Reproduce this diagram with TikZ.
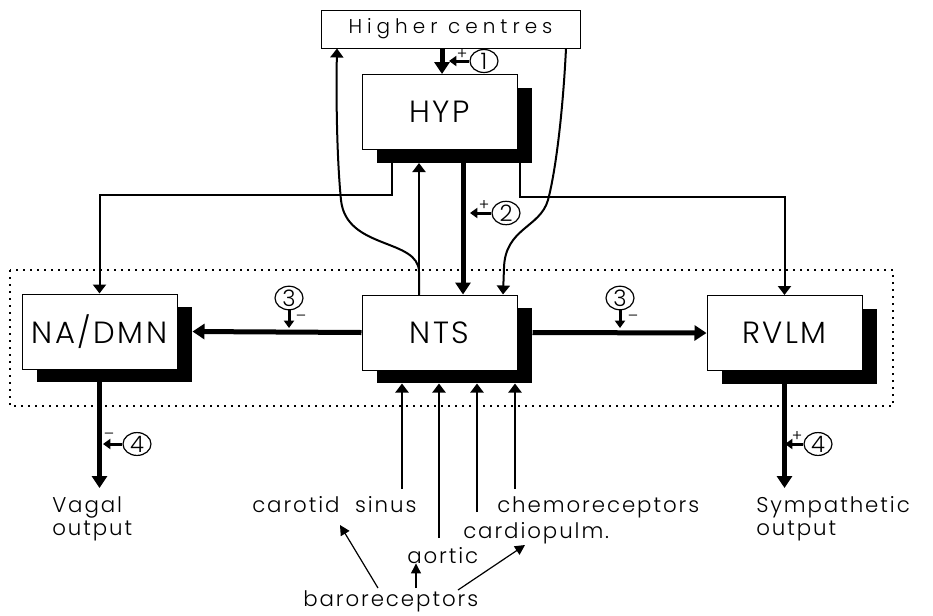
\documentclass[tikz,border=0pt]{standalone}
\usepackage{fontspec}
\setmainfont{Poppins}
\newfontfamily\lblfont{Poppins}[UprightFont=* Light, LetterSpace=9]
\newfontfamily\hcfont{Poppins}[UprightFont=* Light, LetterSpace=25]
\newfontfamily\boxfont{Poppins}[UprightFont=* Light, LetterSpace=8]
\newfontfamily\numfont{Poppins}[UprightFont=* Light]
\usetikzlibrary{arrows.meta,shadows,calc,shapes.geometric}
\begin{document}
\begin{tikzpicture}[x=0.75pt,y=-0.75pt,
  box/.style={draw, line width=0.75pt, fill=white, minimum width=116.25pt,
    minimum height=56.25pt, inner sep=0pt, font=\boxfont\fontsize{23}{23}\selectfont},
  sbox/.style={box, drop shadow={shadow xshift=11.25pt, shadow yshift=-9.75pt, opacity=1, fill=black}},
  conn/.style={line width=1.5pt, -{Triangle[length=6.75pt,width=9.75pt]}},
  thk/.style={line width=3.75pt, -{Triangle[length=9pt,width=11.25pt]}},
  mk/.style={line width=2.25pt, -{Triangle[length=5.5pt,width=7.5pt]}},
  ptr/.style={line width=0.9pt, -{Triangle[length=7.5pt,width=7.5pt]}},
  num/.style={ellipse, draw, line width=0.9pt, fill=white, minimum width=21pt, minimum height=15pt, inner sep=0pt, font=\numfont\fontsize{17}{17}\selectfont},
  sgn/.style={inner sep=0pt, font=\numfont\fontsize{12}{12}\selectfont},
  lbl/.style={inner sep=0pt, font=\lblfont\fontsize{16}{17}\selectfont}]
\useasboundingbox (0,0) rectangle (933,615);
% dotted frame
\draw[line width=0.9pt, dash pattern=on 1.5pt off 3.75pt] (10,270) rectangle (893,406);
% boxes
\node[draw, line width=0.75pt, fill=white, minimum width=194.25pt, minimum height=28.5pt, inner sep=0pt, font=\hcfont\fontsize{15}{15}\selectfont] (HC) at (450.5,29) {Higher centres};
\node[sbox] (HYP) at (439.5,112) {HYP};
\node[sbox] (NTS) at (439.5,332.5) {NTS};
\node[sbox] (NA) at (99.5,331.5) {NA/DMN};
\node[sbox] (RV) at (784.5,333) {RVLM};
% helper coordinates
\coordinate (HYPsb) at ($(HYP.south)+(0,13)$);
\coordinate (NTSsb) at ($(NTS.south)+(0,13)$);
\coordinate (NTSse) at ($(NTS.east)+(15,0)$);
\coordinate (NAse) at ($(NA.east)+(15,0)$);
\coordinate (c337) at (337,0);
\coordinate (c419) at (419,0);
\coordinate (c442) at (442,0);
\coordinate (c463) at (463,0);
\coordinate (c503) at (503,0);
\coordinate (c566) at (566,0);
\coordinate (hl) at (392,195);
\coordinate (hr) at (520,197);
% thin connectors
\draw[conn] (hl |- HYP.south) -- (hl) -- (hl -| NA.north) -- (NA.north);
\draw[conn] (hr |- HYP.south) -- (hr) -- (hr -| RV.north) -- (RV.north);
\draw[conn] (NTS.north -| c419) -- (c419 |- HYPsb);
\draw[conn] (NTS.north -| c419) -- (419,272) .. controls (419,238) and (346,250) .. (341,200)
   .. controls (337,160) and (336,100) .. (HC.south -| c337);
\draw[conn] (HC.south -| c566) .. controls (563,110) and (556,170) .. (548,200)
   .. controls (540,228) and (505,228) .. (504,268) -- (NTS.north -| c503);
% thick connectors
\draw[thk] (HC.south -| c442) -- (HYP.north -| c442);
\draw[thk] (c463 |- HYP.south) -- (c463 |- NTS.north);
\draw[thk] (NTS.west) -- (NAse);
\draw[thk] (NTSse) -- (RV.west);
\coordinate (vagend) at (99.5,488);
\coordinate (symend) at (784.5,488);
\draw[thk] (NA.south) -- (vagend);
\draw[thk] (RV.south) -- (symend);
% inputs to NTS
\coordinate (in1) at (402,489);
\coordinate (in2) at (439,538);
\coordinate (in3) at (477,512);
\coordinate (in4) at (515,489);
\draw[conn] (in1) -- (in1 |- NTSsb);
\draw[conn] (in2) -- (in2 |- NTSsb);
\draw[conn] (in3) -- (in3 |- NTSsb);
\draw[conn] (in4) -- (in4 |- NTSsb);
% markers
\node[num] (m1) at (484,61) {1};
\coordinate (t1) at (449,61);
\draw[mk] (m1.west) -- (t1);
\node[sgn] at (462,54) {+};
\node[num] (m2) at (506,213) {2};
\coordinate (t2) at (470,213);
\draw[mk] (m2.west) -- (t2);
\node[sgn] at (484,205) {+};
\node[num] (m3a) at (289,298) {3};
\coordinate (t3a) at (289,328);
\draw[mk] (m3a.south) -- (t3a);
\node[sgn] at (301,318) {\textendash};
\node[num] (m3b) at (620,298) {3};
\coordinate (t3b) at (620,328);
\draw[mk] (m3b.south) -- (t3b);
\node[sgn] at (633,318) {\textendash};
\node[num] (m4a) at (137,444) {4};
\coordinate (t4a) at (103,444);
\draw[mk] (m4a.west) -- (t4a);
\node[sgn] at (109,436) {\textendash};
\node[num] (m4b) at (818,444) {4};
\coordinate (t4b) at (785,444);
\draw[mk] (m4b.west) -- (t4b);
\node[sgn] at (797,436) {+};
% labels
\node[lbl, anchor=west, align=left] (vag) at (52,519) {Vagal\\output};
\node[lbl, anchor=west, align=left] (sym) at (756,519) {Sympathetic\\output};
\node[lbl, anchor=base west] (car) at (252,512) {carotid\ \ sinus};
\node[lbl, anchor=base west] (chm) at (497,512) {chemoreceptors};
\node[lbl, anchor=base west] (cpm) at (463,538) {cardiopulm.};
\node[lbl, anchor=base west] (aor) at (407,563) {aortic};
\node[lbl, anchor=base west] (bar) at (303,606) {baroreceptors};
% baroreceptor pointers
\coordinate (b1) at (378,588);
\coordinate (b2) at (416,588);
\coordinate (b3) at (458,590);
\draw[ptr] (b1) -- (340,525);
\draw[ptr] (b2) -- (aor.south -| b2);
\draw[ptr] (b3) -- (525,545);
\end{tikzpicture}
\end{document}
